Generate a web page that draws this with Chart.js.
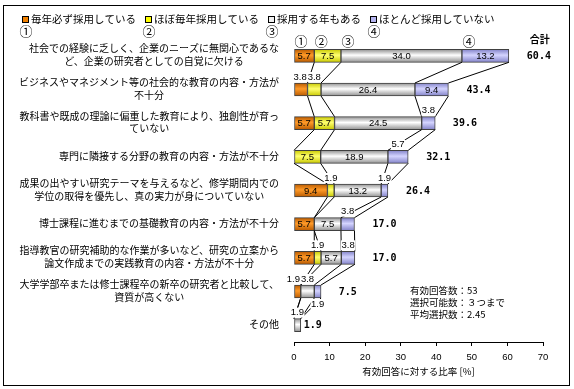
<!DOCTYPE html>
<html lang="ja">
<head>
<meta charset="utf-8">
<script src="https://cdn.jsdelivr.net/npm/chart.js@4.4.0/dist/chart.umd.min.js"></script>
<style>
  html, body { margin: 0; padding: 0; background: #fff; }
  #wrap { width: 574px; height: 389px; }
</style>
</head>
<body>
<div id="wrap"><canvas id="chart" width="574" height="389"></canvas></div>
<script>
// --- data ---
const categories = [
  ["社会での経験に乏しく、企業のニーズに無関心であるな", "ど、企業の研究者としての自覚に欠ける"],
  ["ビジネスやマネジメント等の社会的な教育の内容・方法が", "不十分"],
  ["教科書や既成の理論に偏重した教育により、独創性が育っ", "ていない"],
  ["専門に隣接する分野の教育の内容・方法が不十分"],
  ["成果の出やすい研究テーマを与えるなど、修学期間内での", "学位の取得を優先し、真の実力が身についていない"],
  ["博士課程に進むまでの基礎教育の内容・方法が不十分"],
  ["指導教官の研究補助的な作業が多いなど、研究の立案から", "論文作成までの実践教育の内容・方法が不十分"],
  ["大学学部卒または修士課程卒の新卒の研究者と比較して、", "資質が高くない"],
  ["その他"]
];
const seriesNames = ["毎年必ず採用している", "ほぼ毎年採用している", "採用する年もある", "ほとんど採用していない"];
const everyYear = [5.7, 3.8, 5.7, 0, 9.4, 5.7, 5.7, 1.9, 0];
const mostYears = [7.5, 3.8, 5.7, 7.5, 1.9, 0, 1.9, 0, 0];
const someYears = [34.0, 26.4, 24.5, 18.9, 13.2, 7.5, 5.7, 3.8, 1.9];
const rarely = [13.2, 9.4, 3.8, 5.7, 1.9, 3.8, 3.8, 1.9, 0];
const totals = [60.4, 43.4, 39.6, 32.1, 26.4, 17.0, 17.0, 7.5, 1.9];
const circled = ["①", "②", "③", "④"];
const notes = ["有効回答数：53", "選択可能数：３つまで", "平均選択数：2.45"];
const axisTitle = "有効回答に対する比率 [%]";

// --- styling ---
const BAR_H = 13;
const JP = "'Noto Sans CJK JP', sans-serif";
const NUM = "'Liberation Sans Narrow', 'Liberation Sans', sans-serif";
const seriesColors = [
  { base: "#f08000", edge: "#b85a00", mid: "#ff9a28" },
  { base: "#ffff00", edge: "#c8c800", mid: "#ffff70" },
  { base: "#f0f0f0", edge: "#909090", mid: "#ffffff" },
  { base: "#b4b4f0", edge: "#8282c8", mid: "#d4d4ff" }
];
// where a small segment's value label goes ("row-series": side)
const labelSide = { "3-3": "up", "7-3": "down" };

function segFill(ci) {
  return (ctx) => {
    const c = seriesColors[ci];
    const chart = ctx.chart;
    if (!chart.chartArea || ctx.type !== "data") return c.base;
    const yc = chart.scales.y.getPixelForValue(ctx.dataIndex);
    const g = chart.ctx.createLinearGradient(0, yc - BAR_H / 2, 0, yc + BAR_H / 2);
    g.addColorStop(0, c.edge);
    g.addColorStop(0.45, c.mid);
    g.addColorStop(1, c.edge);
    return g;
  };
}

const seriesValues = [everyYear, mostYears, someYears, rarely];

const decorations = {
  id: "decorations",
  afterDatasetsDraw(chart) {
    const { ctx, scales: { x, y } } = chart;
    const sets = chart.data.datasets;
    ctx.save();

    // series lines between neighbouring bars
    ctx.strokeStyle = "#000";
    ctx.lineWidth = 1;
    for (let i = 0; i < categories.length - 1; i++) {
      let a = 0, b = 0;
      sets.forEach((ds) => {
        a += ds.data[i];
        b += ds.data[i + 1];
        ctx.beginPath();
        ctx.moveTo(x.getPixelForValue(a), y.getPixelForValue(i) + BAR_H / 2);
        ctx.lineTo(x.getPixelForValue(b), y.getPixelForValue(i + 1) - BAR_H / 2);
        ctx.stroke();
      });
    }

    // segment value labels
    ctx.font = "9.5px " + NUM;
    ctx.textAlign = "center";
    ctx.textBaseline = "middle";
    categories.forEach((_, i) => {
      const yc = y.getPixelForValue(i);
      let start = 0;
      const outside = [];
      sets.forEach((ds, si) => {
        const v = ds.data[i];
        if (v > 0) {
          const cx = x.getPixelForValue(start + v / 2);
          const txt = v.toFixed(1);
          const side = labelSide[i + "-" + si] || (v >= 5 ? "in" : "up");
          if (side === "in") {
            ctx.fillStyle = "#000";
            ctx.fillText(txt, cx, yc + 0.5);
          } else {
            const ty = side === "up" ? yc - BAR_H / 2 - 6 : yc + BAR_H / 2 + 6;
            outside.push({ txt, cx, ty, w: ctx.measureText(txt).width });
          }
        }
        start += v;
      });
      // push a label left when the next one on the same side would overlap it
      for (let k = outside.length - 1; k > 0; k--) {
        const cur = outside[k], prev = outside[k - 1];
        if (prev.ty !== cur.ty) continue;
        const over = prev.cx + prev.w / 2 + 1 - (cur.cx - cur.w / 2);
        if (over > 0) prev.cx -= over;
      }
      outside.forEach((o) => {
        ctx.fillStyle = "#fff";
        ctx.fillRect(o.cx - o.w / 2 - 0.5, o.ty - 5, o.w + 1, 10);
      });
      outside.forEach((o) => {
        ctx.fillStyle = "#000";
        ctx.fillText(o.txt, o.cx, o.ty);
      });
    });

    // circled numbers over the first bar
    ctx.font = "13px " + JP;
    let s = 0;
    sets.forEach((ds, si) => {
      ctx.fillText(circled[si], x.getPixelForValue(s) + 7, y.getPixelForValue(0) - BAR_H / 2 - 8);
      s += ds.data[0];
    });

    // totals
    ctx.textAlign = "left";
    ctx.font = "bold 10px 'DejaVu Sans Mono', monospace";
    totals.forEach((t, i) => {
      const gap = i === totals.length - 1 ? 3 : 18;
      const tx = x.getPixelForValue(t) + gap;
      ctx.fillText(t.toFixed(1), tx, y.getPixelForValue(i) + 0.5);
      if (i === 0) {
        ctx.font = "bold 10px " + JP;
        ctx.fillText("合計", tx + 3, y.getPixelForValue(0) - BAR_H / 2 - 10);
        ctx.font = "bold 10px 'DejaVu Sans Mono', monospace";
      }
    });
    ctx.restore();
  },
  afterDraw(chart) {
    const { ctx, scales: { x, y } } = chart;
    ctx.save();

    // outer frame
    ctx.strokeStyle = "#000";
    ctx.lineWidth = 1;
    ctx.strokeRect(3.5, 5.5, 566, 380);

    // category labels: block right aligned, lines centred inside it
    ctx.fillStyle = "#000";
    ctx.font = "10px " + JP;
    ctx.textAlign = "center";
    ctx.textBaseline = "middle";
    const right = x.left - 15;
    categories.forEach((lines, i) => {
      const yc = y.getPixelForValue(i);
      const w = Math.max(...lines.map((l) => ctx.measureText(l).width));
      lines.forEach((l, k) => {
        ctx.fillText(l, right - w / 2, yc - 1 + (k - (lines.length - 1) / 2) * 12.5);
      });
    });

    // legend
    ctx.textAlign = "left";
    let lx = 22;
    seriesNames.forEach((name, si) => {
      ctx.font = "10.5px " + JP;
      ctx.fillStyle = seriesColors[si].base;
      ctx.fillRect(lx, 16, 7, 7);
      ctx.strokeStyle = "#000";
      ctx.strokeRect(lx + 0.5, 16.5, 6, 6);
      ctx.fillStyle = "#000";
      ctx.fillText(name, lx + 9, 19.5);
      const step = 9 + ctx.measureText(name).width + 9;
      ctx.font = "13px " + JP;
      ctx.textAlign = "center";
      ctx.fillText(circled[si], lx + 4, 31);
      ctx.textAlign = "left";
      lx += step;
    });

    // notes
    ctx.font = "9.5px " + JP;
    notes.forEach((n, k) => ctx.fillText(n, 410, 290 + k * 12));
    ctx.restore();
  }
};

new Chart(document.getElementById("chart"), {
  type: "bar",
  data: {
    labels: categories,
    datasets: seriesNames.map((name, si) => ({
      label: name,
      data: seriesValues[si],
      backgroundColor: segFill(si),
      borderColor: "#404040",
      borderWidth: 1,
      borderSkipped: false,
      barThickness: BAR_H
    }))
  },
  options: {
    indexAxis: "y",
    responsive: false,
    animation: false,
    layout: { padding: { top: 39, right: 31, bottom: 3, left: 0 } },
    plugins: { legend: { display: false }, tooltip: { enabled: false } },
    scales: {
      x: {
        stacked: true,
        min: 0,
        max: 70,
        ticks: { stepSize: 10, padding: 6, color: "#000", font: { family: NUM, size: 9.5 } },
        grid: { drawOnChartArea: false, drawTicks: true, tickLength: 4, color: "#000" },
        border: { display: true, color: "#000" },
        title: { display: true, text: axisTitle, color: "#000", font: { family: JP, size: 9.5 }, padding: { top: 0, bottom: 9 } },
        afterFit: (s) => { s.height = 44; }
      },
      y: {
        stacked: true,
        grid: { display: false },
        border: { display: false },
        ticks: { display: false },
        afterFit: (s) => { s.width = 294; }
      }
    }
  },
  plugins: [decorations]
});
</script>
</body>
</html>
